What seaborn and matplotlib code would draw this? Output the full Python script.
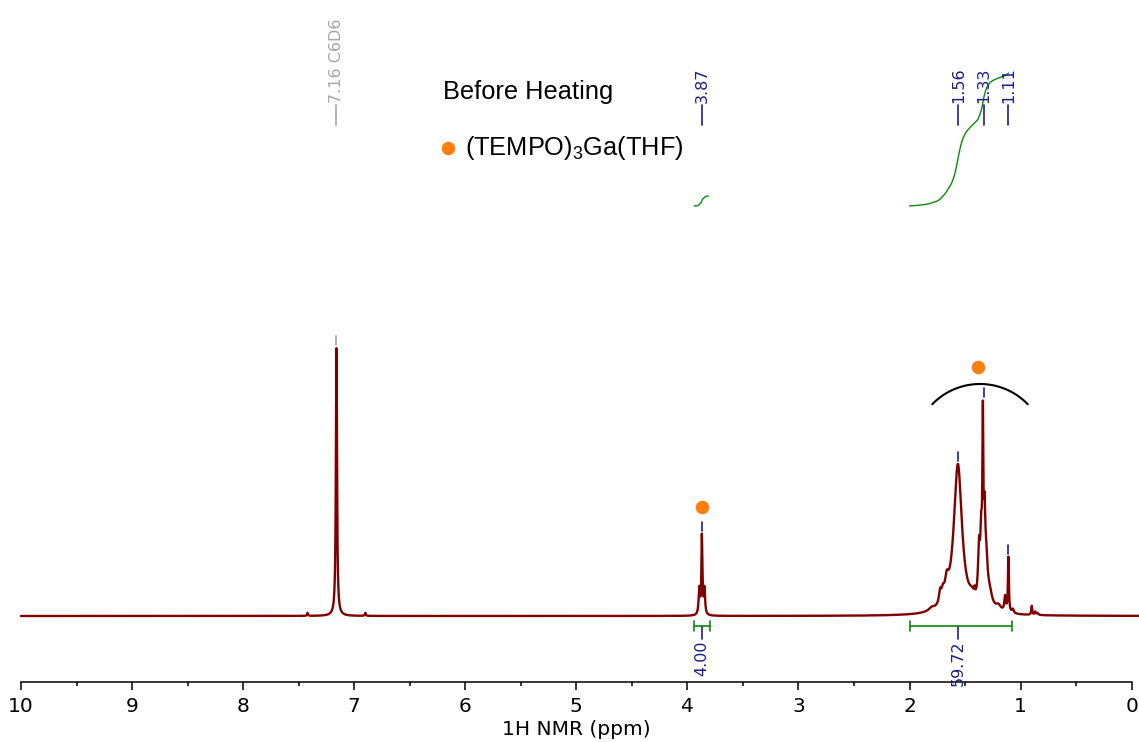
import numpy as np
import matplotlib
matplotlib.use("Agg")
import matplotlib.pyplot as plt
import seaborn as sns

# ---------------- data ----------------
# Lorentzian peak list: centre (ppm), height (a.u.), half width (ppm)
peak_ppm = [7.42, 7.16, 6.90,
            3.893, 3.870, 3.847,
            1.80, 1.725, 1.700, 1.665, 1.565, 1.44, 1.415,
            1.375, 1.355, 1.340, 1.325, 1.310, 1.280, 1.20,
            1.14, 1.11, 1.07, 0.90, 0.87, 0.85]
peak_height = [3, 268, 3,
               26, 78, 26,
               3, 12, 10, 18, 150, 8, 6,
               50, 60, 160, 70, 40, 15, 6,
               15, 55, 4, 9, 3, 2]
peak_hwhm = [0.005, 0.006, 0.005,
             0.007, 0.005, 0.007,
             0.03, 0.012, 0.015, 0.02, 0.045, 0.03, 0.005,
             0.01, 0.01, 0.005, 0.008, 0.015, 0.03, 0.03,
             0.008, 0.005, 0.01, 0.005, 0.005, 0.01]

solvent_ppm = 7.16
solvent_label = "7.16 C6D6"
label_ppm = [3.87, 1.56, 1.33, 1.11]
label_text = ["3.87", "1.56", "1.33", "1.11"]

integral_start = [3.94, 2.00]
integral_end = [3.81, 1.11]
integral_rise = [10, 133]
bracket_start = [3.94, 2.00]
bracket_end = [3.80, 1.08]
bracket_centre = [3.87, 1.56]
integral_text = ["4.00", "59.72"]

marker_ppm = [3.87, 1.386]
legend_title = "Before Heating"
legend_entry = "(TEMPO)$_{3}$Ga(THF)"

x_ticks = list(range(0, 11))
x_minor = [i + 0.5 for i in range(10)]
x_label = "1H NMR (ppm)"

# ---------------- colours / styles ----------------
C_SPEC = "#800000"
C_BLUE = "#1c1c8c"
C_GREY = "#a6a6a6"
C_GREEN = "#0a8a0a"
C_ORANGE = "#ff7f0e"

sns.set_style("ticks")
plt.rcParams["font.family"] = ["DejaVu Sans"]
plt.rcParams["mathtext.fontset"] = "custom"
plt.rcParams["mathtext.rm"] = "Liberation Sans"
plt.rcParams["mathtext.it"] = "Liberation Sans:italic"
plt.rcParams["mathtext.bf"] = "Liberation Sans:bold"
for k in ["text.color", "axes.labelcolor", "xtick.color", "ytick.color",
          "axes.edgecolor"]:
    plt.rcParams[k] = "black"

W, H = 1139, 742
fig = plt.figure(figsize=(W / 100, H / 100), dpi=100)
axis_px = 681.7
base_px = 616.0
x0_px, x1_px = 21.0, 1131.7
ax = fig.add_axes([x0_px / W, (H - axis_px) / H, (x1_px - x0_px) / W, axis_px / H])
ax.set_xlim(10, 0)
ax.set_ylim(-(axis_px - base_px), base_px)


def py(p):
    """pixel row -> data y (1 data unit == 1 pixel)"""
    return base_px - p


def px(p):
    """pixel column -> ppm"""
    return 10 - (p - x0_px) / ((x1_px - x0_px) / 10)


# ---------------- spectrum ----------------
ppm = np.linspace(10.0, -0.07, 30000)
spec = np.zeros_like(ppm)
for c, h, w in zip(peak_ppm, peak_height, peak_hwhm):
    spec += h * w ** 2 / ((ppm - c) ** 2 + w ** 2)

sns.lineplot(x=ppm, y=spec, ax=ax, color=C_SPEC, lw=1.7, estimator=None,
             sort=False, clip_on=False)

# ---------------- integrals ----------------
int_base = py(206)
for s, e, r in zip(integral_start, integral_end, integral_rise):
    m = (ppm <= s) & (ppm >= e)
    cum = np.cumsum(spec[m])
    cum = (cum - cum[0]) / (cum[-1] - cum[0])
    sns.lineplot(x=ppm[m], y=int_base + r * cum, ax=ax, color=C_GREEN, lw=1.0,
                 estimator=None, sort=False)

for s, e, c, t in zip(bracket_start, bracket_end, bracket_centre, integral_text):
    ax.plot([s, e], [py(626), py(626)], color=C_GREEN, lw=1.2)
    ax.plot([s, s], [py(621), py(631)], color=C_GREEN, lw=1.2)
    ax.plot([e, e], [py(621), py(631)], color=C_GREEN, lw=1.2)
    ax.plot([c, c], [py(627), py(639)], color=C_BLUE, lw=1.2)
    ax.text(c, py(640), t, rotation=90, ha="center", va="top",
            color=C_BLUE, fontsize=11.5)

# ---------------- peak labels ----------------
def peak_top(p):
    m = np.abs(ppm - p) < 0.02
    return spec[m].max()

all_lab = [(solvent_ppm, solvent_label, C_GREY)] + \
          [(p, t, C_BLUE) for p, t in zip(label_ppm, label_text)]
for p, t, col in all_lab:
    ax.plot([p, p], [py(125), py(105)], color=col, lw=1.2)
    ax.text(p, py(103), t, rotation=90, ha="center", va="bottom",
            color=col, fontsize=11.5)
    top = peak_top(p)
    ax.plot([p, p], [top + 3, top + 12], color=col, lw=1.2)

# ---------------- compound markers ----------------
ax.scatter([marker_ppm[0]], [py(507)], s=95, color=C_ORANGE, zorder=5,
           linewidths=0)
ax.scatter([marker_ppm[1]], [py(367)], s=95, color=C_ORANGE, zorder=5,
           linewidths=0)
# bracket arc over the TEMPO multiplet (drawn in pixel space)
R, cx, cy = 66.4, 980.0, 384.0 + 66.4
th = np.radians(np.linspace(44, 136, 100))
ax.plot(px(cx + R * np.cos(th)), py(cy - R * np.sin(th)), color="black",
        lw=1.5)

# legend block
ax.text(px(443), py(92), legend_title, fontsize=18.3, family="Liberation Sans",
        ha="left", va="center")
ax.scatter([px(448)], [py(148)], s=95, color=C_ORANGE, linewidths=0,
           clip_on=False)
ax.text(px(465), py(148), legend_entry, fontsize=18.3, family="Liberation Sans",
        ha="left", va="center")

# ---------------- axes ----------------
for sp in ["left", "right", "top"]:
    ax.spines[sp].set_visible(False)
ax.spines["bottom"].set_linewidth(1.1)
ax.set_yticks([])
ax.set_xticks(x_ticks)
ax.set_xticks(x_minor, minor=True)
ax.set_xticklabels([str(t) for t in x_ticks])
ax.tick_params(axis="x", which="major", direction="out", length=6, width=1.1,
               pad=5, labelsize=14.5)
ax.tick_params(axis="x", which="minor", direction="out", length=3, width=1.1)
ax.set_xlabel(x_label, fontsize=14.5, labelpad=3)
ax.set_ylabel("")
ax.patch.set_alpha(0)

fig.savefig("out.png", dpi=100)
